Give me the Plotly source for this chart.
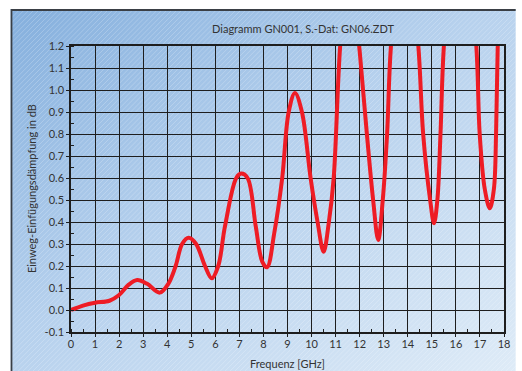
import base64
import plotly.graph_objects as go

# ---- data ----
freq_ghz = [0, 0.5, 1.0, 1.6, 2.0, 2.4, 2.75, 3.15, 3.69, 4.05, 4.35, 4.62, 4.89,
            5.2, 5.57, 5.85, 6.12, 6.4, 6.87, 7.07, 7.34, 7.68, 7.95, 8.15,
            8.45, 8.78, 9.05, 9.31, 9.6, 9.96, 10.25, 10.5, 10.72, 10.92,
            11.19, 11.58, 11.98, 12.3, 12.56, 12.77, 12.96, 13.14, 13.3,
            13.87, 14.44, 14.64, 14.93, 15.09, 15.23, 15.36, 15.5, 16.17,
            16.85, 16.99, 17.2, 17.41, 17.58, 17.67, 17.74, 17.9]
loss_db = [0.0, 0.02, 0.033, 0.042, 0.068, 0.115, 0.136, 0.12, 0.079, 0.12, 0.2, 0.3, 0.328,
           0.3, 0.2, 0.144, 0.2, 0.38, 0.6, 0.62, 0.6, 0.38, 0.22, 0.194,
           0.35, 0.6, 0.9, 0.986, 0.9, 0.6, 0.4, 0.265, 0.4, 0.6,
           1.2, 1.65, 1.2, 0.8, 0.5, 0.318, 0.5, 0.8, 1.2,
           1.85, 1.2, 0.8, 0.5, 0.394, 0.5, 0.8, 1.2, 2.1,
           1.2, 0.8, 0.55, 0.462, 0.55, 0.8, 1.2, 1.7]
x_ticks = list(range(0, 19))
y_ticks = [round(-0.1 + 0.1 * i, 1) for i in range(14)]

title_text = "Diagramm GN001, S.-Dat: GN06.ZDT"
x_title = "Frequenz [GHz]"
y_title = "Einweg-Einfügungsdämpfung in dB"

# ---- background panel (gradient + diagonal hatch) as an SVG image ----
W, H = 513, 362
svg = f'''<svg xmlns="http://www.w3.org/2000/svg" width="{W}" height="{H}" viewBox="0 0 {W} {H}" preserveAspectRatio="none">
<defs>
<linearGradient id="g" x1="0" y1="0" x2="1" y2="1">
<stop offset="0" stop-color="#84afdd"/>
<stop offset="0.45" stop-color="#b5d0ed"/>
<stop offset="1" stop-color="#deebf7"/>
</linearGradient>
<pattern id="p" patternUnits="userSpaceOnUse" width="5" height="5">
<path d="M-1,1 L1,-1 M0,5 L5,0 M4,6 L6,4" stroke="#ffffff" stroke-opacity="0.28" stroke-width="0.8"/>
</pattern>
</defs>
<rect x="0" y="0" width="{W}" height="{H}" fill="url(#g)"/>
<rect x="0" y="0" width="{W}" height="{H}" fill="url(#p)"/>
<path d="M1,{H} L1,1 L{W},1" fill="none" stroke="#3a3f45" stroke-width="2"/>
</svg>'''
src = "data:image/svg+xml;base64," + base64.b64encode(svg.encode()).decode()

L, R, T, B = 70.5, 12, 46, 39
pw, ph = 522 - L - R, 371 - T - B
FONT = dict(family="Lato", size=11, color="#333333")

fig = go.Figure()
fig.add_trace(go.Scatter(
    x=freq_ghz, y=loss_db, mode="lines",
    line=dict(color="#ee1c25", width=4, shape="spline", smoothing=1.0),
    hoverinfo="skip", showlegend=False))

fig.add_layout_image(dict(
    source=src, xref="paper", yref="paper",
    x=(9 - L) / pw, y=(371 - B - 9) / ph,
    sizex=W / pw, sizey=H / ph,
    xanchor="left", yanchor="top", sizing="stretch", layer="below"))

axis_common = dict(
    showgrid=True, gridcolor="#1e1e1e", gridwidth=1,
    showline=True, linecolor="#1e1e1e", linewidth=1.5, mirror=True,
    ticks="outside", ticklen=3, tickcolor="#1e1e1e", tickwidth=1,
    zeroline=False, tickfont=FONT,
)

fig.update_xaxes(range=[0, 18], tickmode="array", tickvals=x_ticks,
                 ticktext=[str(v) for v in x_ticks], ticklabelstandoff=-2,
                 minor=dict(dtick=0.5, ticks="inside", ticklen=3, tickcolor="#1e1e1e", showgrid=False),
                 **axis_common)
fig.update_yaxes(range=[-0.1, 1.2], tickmode="array", tickvals=y_ticks,
                 ticktext=[f"{v:.1f}" for v in y_ticks],
                 minor=dict(dtick=0.05, ticks="inside", ticklen=3, tickcolor="#1e1e1e", showgrid=False),
                 **axis_common)

fig.add_annotation(text=x_title, xref="paper", yref="paper", x=0.5, y=(371 - B - 363) / ph,
                   xanchor="center", yanchor="middle", showarrow=False, font=FONT)
fig.add_annotation(text=y_title, xref="paper", yref="paper", x=(30 - L) / pw, y=0.5,
                   xanchor="center", yanchor="middle", textangle=-90, showarrow=False, font=FONT)

fig.update_layout(
    width=522, height=371,
    margin=dict(l=L, r=R, t=T, b=B, pad=0),
    paper_bgcolor="#ffffff", plot_bgcolor="rgba(0,0,0,0)",
    title=dict(text=title_text, x=303 / 522, xanchor="center", y=1 - 29 / 371, yanchor="middle",
               font=FONT),
)

fig.write_html("out.html", config={"displayModeBar": False})
